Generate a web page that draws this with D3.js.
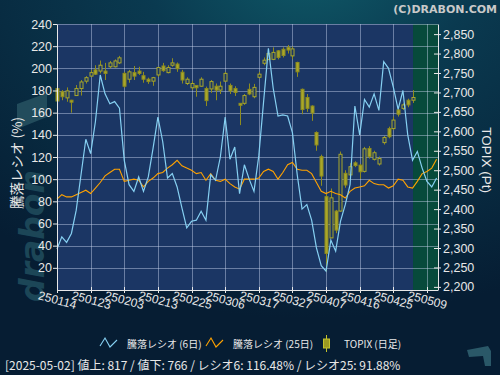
<!DOCTYPE html>
<html>
<head>
<meta charset="utf-8">
<script src="https://cdn.jsdelivr.net/npm/d3@7"></script>
<style>
html, body { margin: 0; padding: 0; background: #072238; }
svg { display: block; }
</style>
</head>
<body>
<div id="chart"></div>
<script>
// 日付ラベル (7営業日ごと)
const tickLabels = ["250114", "250123", "250203", "250213", "250225", "250306",
                    "250317", "250327", "250407", "250416", "250425", "250509"];
const tickStep = 7;

// TOPIX 日足 (2025-01-14 .. 2025-05-02)
const topixOpen  = [2710,2702,2686,2680,2692,2710,2729,2742,2758,2755,2755,2766,2766,2776,2749,2734,2751,2755,2743,2734,
                    2729,2745,2768,2751,2770,2773,2752,2723,2712,2718,2716,2710,2709,2716,2706,2729,2718,2710,2672,2672,
                    2708,2689,2739,2775,2785,2785,2807,2811,2816,2794,2777,2708,2687,2665,2597,2535,2432,2326,2395,2395,
                    2492,2488,2519,2513,2497,2556,2528,2516,2571,2607,2607,2655,2659,2680,2680];
const topixHigh  = [2715,2706,2713,2681,2719,2732,2742,2758,2770,2782,2776,2781,2785,2794,2753,2758,2768,2766,2753,2738,
                    2740,2766,2776,2770,2788,2777,2758,2739,2730,2718,2739,2715,2732,2723,2728,2753,2723,2716,2672,2696,
                    2723,2722,2753,2790,2807,2816,2809,2816,2822,2818,2779,2710,2696,2667,2600,2540,2440,2453,2398,2548,
                    2500,2518,2523,2516,2560,2562,2550,2535,2588,2612,2638,2662,2672,2684,2706];
const topixLow   = [2668,2680,2676,2648,2691,2692,2723,2739,2745,2749,2732,2762,2764,2773,2712,2725,2732,2745,2725,2722,
                    2717,2740,2753,2749,2766,2753,2723,2719,2706,2689,2715,2665,2699,2680,2696,2728,2696,2691,2616,2668,
                    2693,2685,2736,2770,2783,2783,2785,2790,2800,2785,2740,2644,2650,2627,2550,2460,2240,2325,2338,2393,
                    2455,2479,2508,2478,2494,2530,2525,2512,2566,2582,2603,2638,2655,2662,2673];
const topixClose = [2678,2689,2704,2675,2710,2727,2738,2751,2747,2770,2749,2776,2781,2789,2716,2753,2742,2749,2734,2728,
                    2738,2764,2756,2764,2776,2761,2732,2734,2723,2712,2734,2679,2728,2706,2716,2749,2704,2700,2667,2692,
                    2696,2713,2747,2783,2800,2803,2790,2795,2809,2812,2753,2656,2659,2647,2565,2485,2286,2429,2346,2541,
                    2462,2509,2512,2496,2555,2535,2545,2530,2584,2586,2629,2644,2668,2668,2687];

// 騰落レシオ (%)
const ratio6  = [37,48,43,51,72,104,136,123,152,194,177,168,170,164,117,95,89,102,89,102,
                 128,156,134,101,105,93,74,56,62,63,71,63,104,99,120,156,118,129,87,113,
                 100,89,121,170,218,182,157,158,157,142,104,73,77,63,38,22,17,45,35,62,
                 77,95,166,140,172,165,177,162,206,200,183,163,180,140,117,125,110,98,93,101];
const ratio25 = [82,86,84,84,86,88,90,87,92,97,103,106,109,109,98,99,100,99,93,98,
                 101,105,106,110,113,117,112,110,108,105,106,99,105,99,98,100,96,93,91,100,
                 100,100,101,107,109,107,100,106,113,115,109,108,108,105,97,89,87,89,87,86,
                 83,89,92,93,94,99,96,95,95,92,94,100,99,93,92,98,105,107,110,118];

const leftTicks = [20,40,60,80,100,120,140,160,180,200,220,240];
const statusLine = "[2025-05-02] 値上: 817 / 値下: 766 / レシオ6: 116.48% / レシオ25: 91.88%";

const width = 500, height = 375;
const margin = {top: 24, right: 62, bottom: 85, left: 57};
const plotBg = "#1b3664";
const candleFill = "#a9a72a", candleLine = "#8e8c1f";
const jp = "'Noto Sans CJK JP', 'Liberation Sans', sans-serif";
const latin = "'Liberation Sans', 'Noto Sans CJK JP', sans-serif";

const svg = d3.select("#chart").append("svg")
    .attr("width", width).attr("height", height);

const defs = svg.append("defs");
const bgGrad = defs.append("radialGradient").attr("id", "bg")
    .attr("cx", "0.62").attr("cy", "-0.1").attr("r", "0.95");
bgGrad.append("stop").attr("offset", "0%").attr("stop-color", "#0f5a68");
bgGrad.append("stop").attr("offset", "35%").attr("stop-color", "#0a3a50");
bgGrad.append("stop").attr("offset", "100%").attr("stop-color", "#061d33");

svg.append("rect").attr("width", width).attr("height", height).attr("fill", "url(#bg)");

// 透かし
const wm = "#1c4657";
svg.append("text")
    .attr("transform", "translate(44,236) rotate(-90)")
    .attr("text-anchor", "middle")
    .style("font-family", "'DejaVu Sans'").style("font-weight", "bold").style("font-style", "italic")
    .style("font-size", "33px").attr("fill", wm)
    .text("drabon");
svg.append("polygon").attr("points", "17,129 47,117 47,93 17,104").attr("fill", "#224c5c");
svg.append("polygon").attr("points", "467,350 488,346 491,351 491,366 485,366 483,356 469,357").attr("fill", "#2a5868");

const x = d3.scaleLinear().domain([0, 79.3]).range([margin.left, width - margin.right]);
const yL = d3.scaleLinear().domain([0, 240]).range([height - margin.bottom, margin.top]);
const yR = d3.scaleLinear().domain([2192, 2876]).range([height - margin.bottom, margin.top]);

const y0 = height - margin.bottom, y1 = margin.top;
const lastIdx = topixClose.length - 1;

svg.append("rect").attr("x", x(0)).attr("y", y1)
    .attr("width", x.range()[1] - x(0)).attr("height", y0 - y1).attr("fill", plotBg);
svg.append("rect").attr("x", x(lastIdx + 0.1)).attr("y", y1)
    .attr("width", x.range()[1] - x(lastIdx + 0.1)).attr("height", y0 - y1).attr("fill", "#074a3b");

// グリッド
const gridColor = "rgba(205,215,240,0.45)";
svg.append("g").selectAll("line").data(leftTicks).join("line")
    .attr("x1", x(0)).attr("x2", x.range()[1])
    .attr("y1", d => Math.round(yL(d)) + 0.5).attr("y2", d => Math.round(yL(d)) + 0.5)
    .attr("stroke", gridColor);
svg.append("g").selectAll("line").data(tickLabels.slice(1)).join("line")
    .attr("x1", (d, i) => Math.round(x((i + 1) * tickStep)) + 0.5)
    .attr("x2", (d, i) => Math.round(x((i + 1) * tickStep)) + 0.5)
    .attr("y1", y1).attr("y2", y0)
    .attr("stroke", gridColor);

// ローソク足
const candles = topixClose.map((c, i) => ({i, o: topixOpen[i], h: topixHigh[i], l: topixLow[i], c}));
const cg = svg.append("g");
cg.selectAll("line").data(candles).join("line")
    .attr("x1", d => Math.round(x(d.i)) + 0.5).attr("x2", d => Math.round(x(d.i)) + 0.5)
    .attr("y1", d => yR(d.h)).attr("y2", d => yR(d.l))
    .attr("stroke", candleLine);
cg.selectAll("rect").data(candles).join("rect")
    .attr("x", d => Math.round(x(d.i)) - 1)
    .attr("y", d => yR(Math.max(d.o, d.c)))
    .attr("width", 3)
    .attr("height", d => Math.max(1, Math.abs(yR(d.o) - yR(d.c))))
    .attr("fill", d => d.c >= d.o ? plotBg : candleFill)
    .attr("stroke", d => d.c >= d.o ? candleFill : candleLine);

// 騰落レシオ線
const line = d3.line().x((d, i) => x(i)).y(d => yL(d));
svg.append("path").datum(ratio25).attr("d", line)
    .attr("fill", "none").attr("stroke", "#ffa200").attr("stroke-width", 1.1);
svg.append("path").datum(ratio6).attr("d", line)
    .attr("fill", "none").attr("stroke", "#86d0f2").attr("stroke-width", 1.2);

// 軸
const axisColor = "#e8e8e8";
const gl = svg.append("g").attr("transform", `translate(${x(0)},0)`)
    .call(d3.axisLeft(yL).tickValues(leftTicks).tickSize(4).tickSizeOuter(0).tickPadding(1));
const gr = svg.append("g").attr("transform", `translate(${x.range()[1]},0)`)
    .call(d3.axisRight(yR).tickValues(d3.range(2200, 2851, 50)).tickFormat(d3.format(","))
          .tickSize(3).tickSizeOuter(0));
gr.selectAll(".tick line").attr("x1", -4);
gr.selectAll(".tick text").attr("x", 5);
[gl, gr].forEach(g => {
    g.select(".domain").attr("stroke", axisColor);
    g.selectAll(".tick line").attr("stroke", axisColor);
    g.selectAll(".tick text").attr("fill", axisColor)
        .style("font-family", latin).style("font-size", "12.5px");
});

svg.append("line").attr("x1", x(0)).attr("x2", x.range()[1])
    .attr("y1", y0 + 0.5).attr("y2", y0 + 0.5).attr("stroke", axisColor);
const xt = svg.append("g").selectAll("g").data(tickLabels).join("g")
    .attr("transform", (d, i) => `translate(${Math.round(x(i * tickStep)) + 0.5},0)`);
xt.append("line").attr("y1", y0 - 3).attr("y2", y0 + 3).attr("stroke", axisColor);
xt.append("text")
    .attr("transform", `translate(0,${y0 + 10}) rotate(15)`)
    .attr("text-anchor", "middle").attr("dy", "0.35em")
    .attr("fill", axisColor)
    .style("font-family", latin).style("font-size", "12px")
    .text(d => d);

// 軸タイトル
svg.append("text").attr("transform", "translate(22,163) rotate(-90)")
    .attr("text-anchor", "middle").attr("fill", axisColor)
    .style("font-family", jp).style("font-size", "13.5px")
    .text("騰落レシオ (%)");
svg.append("text").attr("transform", "translate(482,160) rotate(90)")
    .attr("text-anchor", "middle").attr("fill", axisColor)
    .style("font-family", latin).style("font-size", "13.5px")
    .text("TOPIX (Pt)");

svg.append("text").attr("x", 497).attr("y", 13).attr("text-anchor", "end")
    .attr("fill", "#c9c9c9")
    .style("font-family", "'DejaVu Sans'").style("font-weight", "bold").style("font-size", "11px")
    .text("(C)DRABON.COM");

// 凡例
const legY = 343;
const zig = [[0, 3], [5, -5], [10, 4], [17, -3]];
const zigLine = d3.line();
const legend = [
    {x: 100, color: "#86d0f2", label: "騰落レシオ (6日)"},
    {x: 206, color: "#ffa200", label: "騰落レシオ (25日)"}
];
legend.forEach(l => {
    svg.append("path").attr("d", zigLine(zig.map(p => [l.x + p[0], legY + p[1]])))
        .attr("fill", "none").attr("stroke", l.color).attr("stroke-width", 1.1);
    svg.append("text").attr("x", l.x + 27).attr("y", legY + 4.5)
        .attr("fill", axisColor).style("font-family", jp).style("font-size", "10px")
        .text(l.label);
});
svg.append("line").attr("x1", 326.5).attr("x2", 326.5).attr("y1", legY - 8).attr("y2", legY + 9)
    .attr("stroke", "#c4c22c");
svg.append("rect").attr("x", 323.5).attr("y", legY - 4).attr("width", 6).attr("height", 9)
    .attr("fill", "#9c9a22").attr("stroke", "#c4c22c");
svg.append("text").attr("x", 344).attr("y", legY + 4.5)
    .attr("fill", axisColor).style("font-family", jp).style("font-size", "10px")
    .text("TOPIX (日足)");

// ステータス
svg.append("text").attr("x", 5).attr("y", 370)
    .attr("fill", axisColor).style("font-family", jp).style("font-size", "12px")
    .text(statusLine);
</script>
</body>
</html>
